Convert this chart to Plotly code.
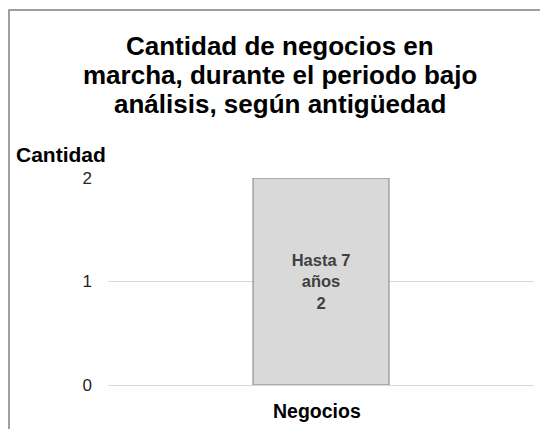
import plotly.graph_objects as go

categories = ["Negocios"]
values = [2]
bar_labels = ["Hasta 7<br>años<br>2"]
tick_vals = [0, 1, 2]
tick_text = ["0", "1", "2"]
title_lines = ["Cantidad de negocios en", "marcha, durante el periodo bajo", "análisis, según antigüedad"]

OFF = 8  # page body margin
W, H = 548 - OFF, 429 - OFF
L, R, T, B = 108 - OFF, W - (534 - OFF), 178 - OFF, H - (385 - OFF)
pw, ph = W - L - R, H - T - B


def px(x):
    return (x - OFF - L) / pw


def py(y):
    return (H - B - (y - OFF)) / ph


FONT = "Liberation Sans, Arial"

fig = go.Figure()
fig.add_trace(go.Bar(
    x=categories, y=values, width=136 / pw,
    marker=dict(color="#d9d9d9", line=dict(color="#808080", width=1)),
    text=bar_labels, textposition="inside", insidetextanchor="middle",
    textfont=dict(family=FONT, size=16.5, color="#404040"),
    texttemplate="<b>%{text}</b>", hoverinfo="skip",
))

annotations = []
for i, line in enumerate(title_lines):
    annotations.append(dict(
        text="<b>" + line + "</b>", xref="paper", yref="paper",
        x=px(280), y=py(46 + 29 * i), xanchor="center", yanchor="middle",
        showarrow=False, font=dict(family=FONT, size=26, color="#000000")))
annotations.append(dict(
    text="<b>Cantidad</b>", xref="paper", yref="paper", x=px(14), y=py(154),
    xanchor="left", yanchor="middle", showarrow=False,
    font=dict(family=FONT, size=21, color="#000000")))
annotations.append(dict(
    text="<b>Negocios</b>", xref="paper", yref="paper", x=px(317), y=py(411),
    xanchor="center", yanchor="middle", showarrow=False,
    font=dict(family=FONT, size=19.5, color="#000000")))

fig.update_layout(
    width=W, height=H,
    margin=dict(l=L, r=R, t=T, b=B, pad=0),
    paper_bgcolor="white", plot_bgcolor="white",
    showlegend=False,
    font=dict(family=FONT, color="#000000"),
    xaxis=dict(showgrid=False, showline=False, ticks="", showticklabels=False,
               range=[-0.5, 0.5]),
    yaxis=dict(range=[0, 2], tickvals=tick_vals, ticktext=tick_text,
               showgrid=True, gridcolor="#d9d9d9", gridwidth=1,
               zeroline=True, zerolinecolor="#d9d9d9", zerolinewidth=1,
               showline=False, ticks="", ticklabelstandoff=15,
               tickfont=dict(family=FONT, size=17, color="#262626")),
    shapes=[dict(type="rect", xref="paper", yref="paper",
                 x0=px(OFF + 1), x1=px(620), y0=py(500), y1=py(10),
                 line=dict(color="#808080", width=1.5), fillcolor="rgba(0,0,0,0)")],
    annotations=annotations,
)

fig.write_html("out.html")
